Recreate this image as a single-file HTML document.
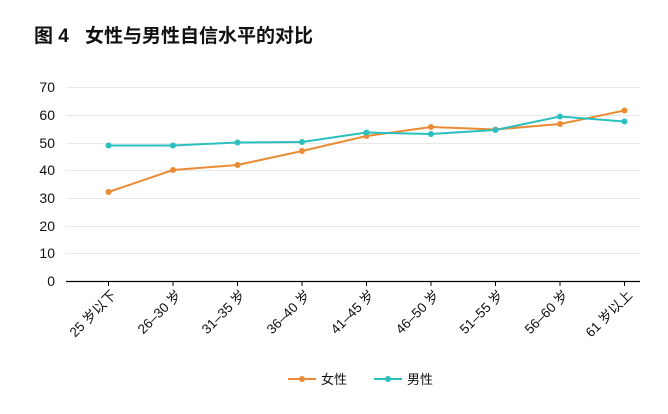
<!DOCTYPE html><html><head><meta charset="utf-8"><style>body{margin:0;background:#fff}svg{display:block;font-family:"Liberation Sans","Noto Sans CJK SC",sans-serif}</style></head><body>
<svg width="668" height="414" xmlns="http://www.w3.org/2000/svg">
<text x="34" y="42" font-size="19" font-weight="bold" fill="#111">图 4</text>
<text x="85" y="42" font-size="19" font-weight="bold" fill="#111">女性与男性自信水平的对比</text>
<g stroke="#e8e8e8" stroke-width="1">
<line x1="66" x2="640" y1="87.5" y2="87.5"/><line x1="66" x2="640" y1="115.5" y2="115.5"/><line x1="66" x2="640" y1="143.5" y2="143.5"/><line x1="66" x2="640" y1="170.5" y2="170.5"/><line x1="66" x2="640" y1="198.5" y2="198.5"/><line x1="66" x2="640" y1="226.5" y2="226.5"/><line x1="66" x2="640" y1="253.5" y2="253.5"/>
</g>
<line x1="66" x2="640" y1="281.5" y2="281.5" stroke="#000" stroke-width="1.3"/>
<g stroke="#000"><line x1="108.5" x2="108.5" y1="281" y2="286"/><line x1="173" x2="173" y1="281" y2="286"/><line x1="237.5" x2="237.5" y1="281" y2="286"/><line x1="302" x2="302" y1="281" y2="286"/><line x1="366.5" x2="366.5" y1="281" y2="286"/><line x1="431" x2="431" y1="281" y2="286"/><line x1="495.5" x2="495.5" y1="281" y2="286"/><line x1="560" x2="560" y1="281" y2="286"/><line x1="624.5" x2="624.5" y1="281" y2="286"/></g>
<g font-size="14" fill="#111" text-anchor="end">
<text x="55" y="92">70</text><text x="55" y="120">60</text><text x="55" y="148">50</text><text x="55" y="175">40</text><text x="55" y="203">30</text><text x="55" y="231">20</text><text x="55" y="258">10</text><text x="55" y="286">0</text>
</g>
<g font-size="13.5" fill="#111" text-anchor="end">
<text transform="translate(117,296) rotate(-45)">25 岁以下</text>
<text transform="translate(182,296) rotate(-45)">26–30 岁</text>
<text transform="translate(246,296) rotate(-45)">31–35 岁</text>
<text transform="translate(311,296) rotate(-45)">36–40 岁</text>
<text transform="translate(375,296) rotate(-45)">41–45 岁</text>
<text transform="translate(440,296) rotate(-45)">46–50 岁</text>
<text transform="translate(504,296) rotate(-45)">51–55 岁</text>
<text transform="translate(569,296) rotate(-45)">56–60 岁</text>
<text transform="translate(633,296) rotate(-45)">61 岁以上</text>
</g>
<polyline fill="none" stroke="#ea8c35" stroke-width="2" points="108.5,192 173,170 237.5,165 302,151 366.5,136 431,127 495.5,129.5 560,124 624.5,110.5"/>
<polyline fill="none" stroke="#2bbfbf" stroke-width="2" points="108.5,145.5 173,145.5 237.5,142.5 302,142 366.5,132.5 431,134 495.5,130 560,116.5 624.5,121.5"/>
<g fill="#ea8c35"><circle cx="108.5" cy="192" r="3"/><circle cx="173" cy="170" r="3"/><circle cx="237.5" cy="165" r="3"/><circle cx="302" cy="151" r="3"/><circle cx="366.5" cy="136" r="3"/><circle cx="431" cy="127" r="3"/><circle cx="495.5" cy="129.5" r="3"/><circle cx="560" cy="124" r="3"/><circle cx="624.5" cy="110.5" r="3"/></g>
<g fill="#2bbfbf"><circle cx="108.5" cy="145.5" r="3"/><circle cx="173" cy="145.5" r="3"/><circle cx="237.5" cy="142.5" r="3"/><circle cx="302" cy="142" r="3"/><circle cx="366.5" cy="132.5" r="3"/><circle cx="431" cy="134" r="3"/><circle cx="495.5" cy="130" r="3"/><circle cx="560" cy="116.5" r="3"/><circle cx="624.5" cy="121.5" r="3"/></g>
<line x1="288" x2="316" y1="379" y2="379" stroke="#ea8c35" stroke-width="2"/><circle cx="302" cy="379" r="3" fill="#ea8c35"/>
<text x="321" y="384" font-size="13" fill="#111">女性</text>
<line x1="374" x2="402" y1="379" y2="379" stroke="#2bbfbf" stroke-width="2"/><circle cx="388" cy="379" r="3" fill="#2bbfbf"/>
<text x="407" y="384" font-size="13" fill="#111">男性</text>
</svg></body></html>
